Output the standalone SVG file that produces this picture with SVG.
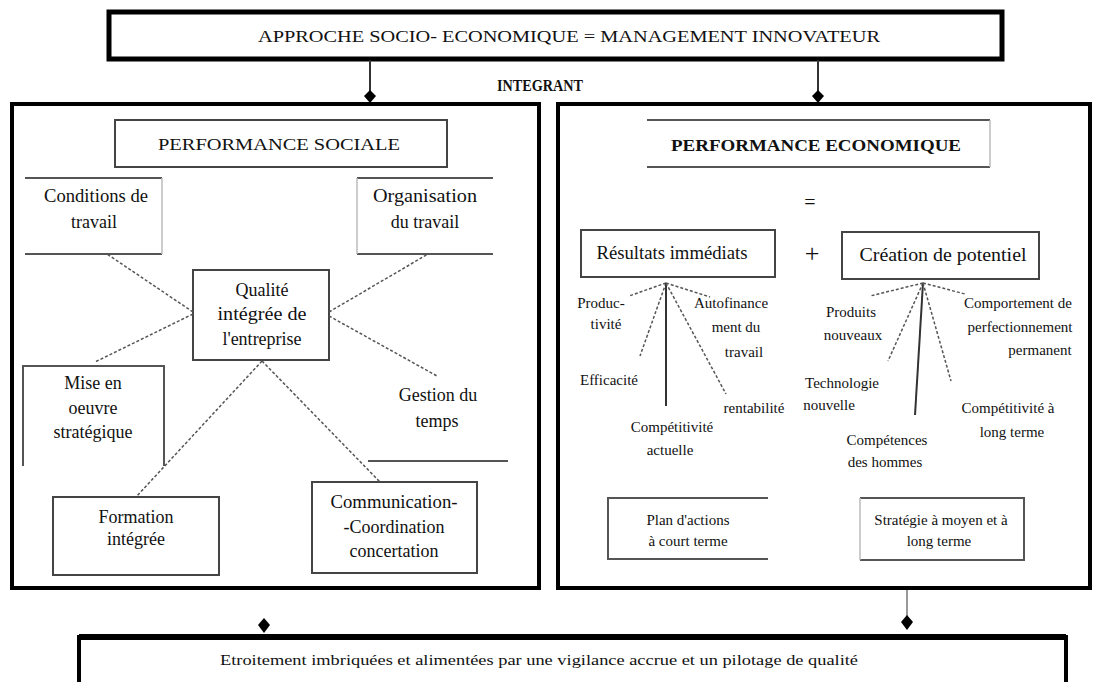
<svg xmlns="http://www.w3.org/2000/svg" width="1103" height="682" viewBox="0 0 1103 682" font-family="'Liberation Serif', 'DejaVu Serif', serif">
  <defs>
    <style>
      text { font-family: "Liberation Serif", "DejaVu Serif", serif; fill: #111; text-anchor: middle; }
      .big { font-size: 18px; }
      .sm { font-size: 15px; }
      .cap { font-size: 17px; }
      .bold { font-weight: bold; }
      .frame { fill: #fff; stroke: #000; stroke-width: 4; }
      .box { fill: #fff; stroke: #444; stroke-width: 2; }
      .edge { fill: none; stroke: #555; stroke-width: 2; }
      .faint { fill: none; stroke: #bbb; stroke-width: 1.5; }
      .dash { fill: none; stroke: #555; stroke-width: 1.5; stroke-dasharray: 3 2; }
      .solid { fill: none; stroke: #333; stroke-width: 2; }
      .link { fill: none; stroke: #333; stroke-width: 2; }
      .dot { fill: #000; }
    </style>
  </defs>

  <rect width="1103" height="682" fill="#fff"/>

  <!-- Top header -->
  <g id="approche">
    <rect x="109" y="12" width="893" height="47" fill="#fff" stroke="#000" stroke-width="5"/>
    <text x="569" y="42" class="cap" textLength="622" lengthAdjust="spacingAndGlyphs">APPROCHE SOCIO- ECONOMIQUE = MANAGEMENT INNOVATEUR</text>
  </g>

  <g id="integrant">
    <text x="540" y="91" class="cap bold" textLength="86" lengthAdjust="spacingAndGlyphs">INTEGRANT</text>
  </g>

  <!-- Social performance panel -->
  <g id="panel-sociale">
    <rect x="12" y="104" width="527" height="484" class="frame"/>
  </g>

  <g id="perf-sociale">
    <rect x="115" y="120" width="332" height="47" class="box"/>
    <text x="279" y="150" class="cap" textLength="242" lengthAdjust="spacingAndGlyphs">PERFORMANCE SOCIALE</text>
  </g>

  <g id="conditions">
    <line x1="25" y1="178" x2="162" y2="178" class="edge"/>
    <line x1="25" y1="254" x2="162" y2="254" class="edge"/>
    <line x1="162" y1="178" x2="162" y2="254" class="faint"/>
    <text x="96" y="202" class="big" textLength="104" lengthAdjust="spacingAndGlyphs">Conditions de</text>
    <text x="94" y="228" class="big">travail</text>
  </g>

  <g id="organisation">
    <line x1="357" y1="178" x2="493" y2="178" class="edge"/>
    <line x1="357" y1="254" x2="493" y2="254" class="edge"/>
    <line x1="357" y1="178" x2="357" y2="254" class="faint"/>
    <text x="425" y="202" class="big" textLength="104" lengthAdjust="spacingAndGlyphs">Organisation</text>
    <text x="425" y="228" class="big">du travail</text>
  </g>

  <g id="qualite">
    <rect x="193" y="270" width="136" height="90" class="box"/>
    <text x="262" y="296" class="big">Qualité</text>
    <text x="262" y="320" class="big" textLength="89" lengthAdjust="spacingAndGlyphs">intégrée de</text>
    <text x="262" y="345" class="big">l'entreprise</text>
  </g>

  <g id="mise-en-oeuvre">
    <path d="M23,466 V366 H164 V466" class="edge"/>
    <text x="93" y="389" class="big">Mise en</text>
    <text x="93" y="414" class="big">oeuvre</text>
    <text x="93" y="438" class="big">stratégique</text>
  </g>

  <g id="gestion-temps">
    <line x1="368" y1="461" x2="508" y2="461" class="edge"/>
    <text x="438" y="401" class="big">Gestion du</text>
    <text x="437" y="427" class="big">temps</text>
  </g>

  <g id="formation">
    <rect x="53" y="497" width="166" height="78" class="box"/>
    <text x="136" y="523" class="big">Formation</text>
    <text x="136" y="545" class="big">intégrée</text>
  </g>

  <g id="communication">
    <rect x="312" y="482" width="165" height="91" class="box"/>
    <text x="394" y="508" class="big" textLength="127" lengthAdjust="spacingAndGlyphs">Communication-</text>
    <text x="394" y="533" class="big">-Coordination</text>
    <text x="394" y="557" class="big">concertation</text>
  </g>

  <!-- Economic performance panel -->
  <g id="panel-economique">
    <rect x="558" y="104" width="532" height="484" class="frame"/>
  </g>

  <g id="perf-economique">
    <line x1="647" y1="120" x2="990" y2="120" class="edge"/>
    <line x1="647" y1="167" x2="990" y2="167" class="edge"/>
    <line x1="990" y1="120" x2="990" y2="167" class="faint"/>
    <text x="816" y="151" class="cap bold" textLength="290" lengthAdjust="spacingAndGlyphs">PERFORMANCE ECONOMIQUE</text>
  </g>

  <g id="egal">
    <text x="810" y="209" style="font-size:20px">=</text>
  </g>

  <g id="resultats">
    <rect x="581" y="230" width="194" height="47" class="box"/>
    <text x="672" y="259" class="big" textLength="151" lengthAdjust="spacingAndGlyphs">Résultats immédiats</text>
  </g>

  <g id="plus">
    <text x="812" y="262" style="font-size:26px">+</text>
  </g>

  <g id="potentiel">
    <rect x="842" y="232" width="197" height="47" class="box"/>
    <text x="943" y="261" class="big" textLength="167" lengthAdjust="spacingAndGlyphs">Création de potentiel</text>
  </g>

  <g id="productivite">
    <text x="601" y="308" class="sm">Produc-</text>
    <text x="606" y="329" class="sm">tivité</text>
  </g>
  <g id="efficacite">
    <text x="609" y="385" class="sm">Efficacité</text>
  </g>
  <g id="competitivite-actuelle">
    <text x="672" y="432" class="sm">Compétitivité</text>
    <text x="670" y="455" class="sm">actuelle</text>
  </g>
  <g id="rentabilite">
    <text x="754" y="413" class="sm">rentabilité</text>
  </g>
  <g id="autofinancement">
    <text x="731" y="308" class="sm">Autofinance</text>
    <text x="736" y="332" class="sm">ment du</text>
    <text x="744" y="357" class="sm">travail</text>
  </g>

  <g id="produits-nouveaux">
    <text x="851" y="317" class="sm">Produits</text>
    <text x="853" y="340" class="sm">nouveaux</text>
  </g>
  <g id="technologie">
    <text x="842" y="388" class="sm">Technologie</text>
    <text x="829" y="410" class="sm">nouvelle</text>
  </g>
  <g id="competences">
    <text x="887" y="445" class="sm">Compétences</text>
    <text x="885" y="467" class="sm">des hommes</text>
  </g>
  <g id="competitivite-long-terme">
    <text x="1008" y="413" class="sm">Compétitivité à</text>
    <text x="1012" y="437" class="sm">long terme</text>
  </g>
  <g id="comportement">
    <text x="1018" y="308" class="sm">Comportement de</text>
    <text x="1020" y="332" class="sm">perfectionnement</text>
    <text x="1040" y="355" class="sm">permanent</text>
  </g>

  <g id="plan-actions">
    <path d="M768,498 H608 V559 H768" class="edge"/>
    <text x="688" y="525" class="sm">Plan d'actions</text>
    <text x="688" y="546" class="sm">à court terme</text>
  </g>

  <g id="strategie">
    <path d="M860,498 H1024 V560 H860" class="edge"/>
    <line x1="860" y1="498" x2="860" y2="560" class="faint"/>
    <text x="941" y="525" class="sm">Stratégie à moyen et à</text>
    <text x="939" y="546" class="sm">long terme</text>
  </g>

  <!-- Bottom statement -->
  <g id="conclusion">
    <path d="M79,682 V637 H1066 V682" fill="#fff" stroke="#000" stroke-width="4"/>
    <line x1="79" y1="637" x2="1066" y2="637" stroke="#000" stroke-width="6"/>
    <text x="539" y="665" class="sm" textLength="638" lengthAdjust="spacingAndGlyphs">Etroitement imbriquées et alimentées par une vigilance accrue et un pilotage de qualité</text>
  </g>

  <!-- Connectors -->
  <g id="connectors">
    <line x1="370" y1="60" x2="370" y2="92" class="link"/>
    <line x1="818" y1="60" x2="818" y2="92" class="link"/>
    <path d="M370,90 L376,96 L370,103 L364,96 Z" class="dot"/>
    <path d="M818,90 L824,96 L818,103 L812,96 Z" class="dot"/>

    <line x1="907" y1="590" x2="907" y2="618" stroke="#777" stroke-width="1.5"/>
    <path d="M907,615 L913,622 L907,630 L901,622 Z" class="dot"/>
    <path d="M264,618 L270,625 L264,633 L258,625 Z" class="dot"/>

    <!-- social spokes -->
    <line x1="193" y1="312" x2="107" y2="254" class="dash"/>
    <line x1="329" y1="312" x2="428" y2="254" class="dash"/>
    <line x1="193" y1="314" x2="95" y2="362" class="dash"/>
    <line x1="329" y1="316" x2="437" y2="376" class="dash"/>
    <line x1="262" y1="361" x2="136" y2="497" class="dash"/>
    <line x1="262" y1="361" x2="380" y2="482" class="dash"/>

    <!-- immediate results fan -->
    <line x1="666" y1="283" x2="629" y2="296" class="dash"/>
    <line x1="666" y1="283" x2="640" y2="356" class="dash"/>
    <line x1="666" y1="283" x2="666" y2="406" class="solid"/>
    <line x1="666" y1="283" x2="726" y2="394" class="dash"/>
    <line x1="666" y1="283" x2="710" y2="297" class="dash"/>

    <!-- potential fan -->
    <line x1="923" y1="283" x2="870" y2="296" class="dash"/>
    <line x1="923" y1="283" x2="888" y2="361" class="dash"/>
    <line x1="923" y1="283" x2="915" y2="415" class="solid"/>
    <line x1="923" y1="283" x2="951" y2="381" class="dash"/>
    <line x1="923" y1="283" x2="965" y2="294" class="dash"/>
  </g>
</svg>
